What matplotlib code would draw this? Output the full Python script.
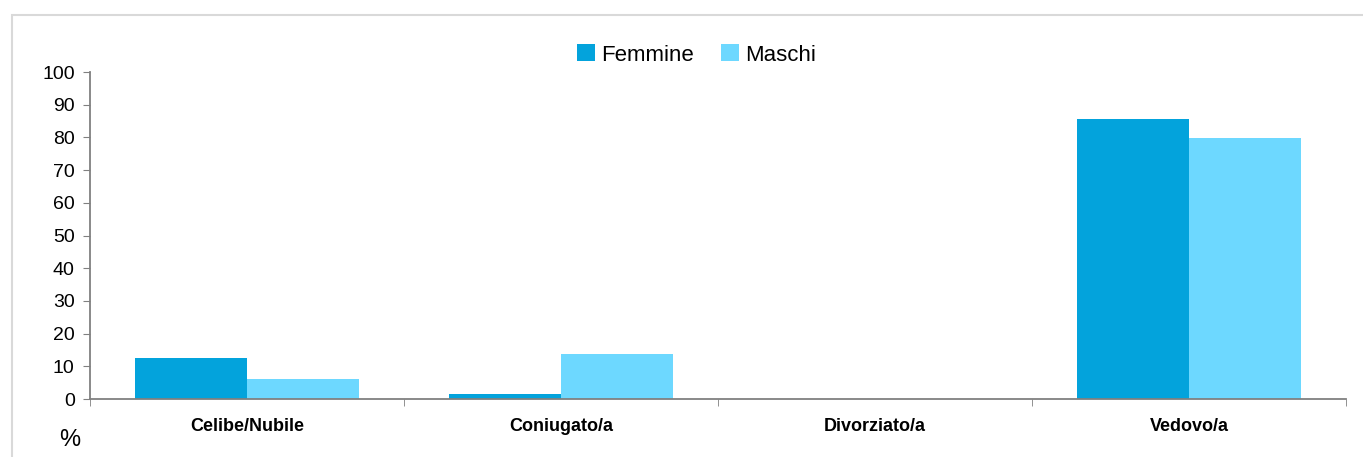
import matplotlib.pyplot as plt
import numpy as np
from matplotlib.patches import Rectangle

# dati
categorie = ['Celibe/Nubile', 'Coniugato/a', 'Divorziato/a', 'Vedovo/a']
femmine = [12.5, 1.5, 0.0, 85.6]
maschi = [6.1, 13.8, 0.0, 79.8]

plt.rcParams['font.family'] = ['Liberation Sans', 'DejaVu Sans']

fig = plt.figure(figsize=(13.63, 4.57), dpi=100)
ax = fig.add_axes([90 / 1363, 1 - 399 / 457, (1346 - 90) / 1363, (399 - 72) / 457])

# cornice grigia
fig.patches.append(Rectangle((12 / 1363, -0.1), 1.2, 1 - 15 / 457 + 0.1,
                             transform=fig.transFigure, fill=False,
                             edgecolor='#d9d9d9', linewidth=1.5))

x = np.arange(len(categorie))
w = 0.356
ax.bar(x - w / 2, femmine, w, color='#03a3dc', label='Femmine')
ax.bar(x + w / 2, maschi, w, color='#6dd8ff', label='Maschi')

ax.set_xlim(-0.5, len(categorie) - 0.5)
ax.set_ylim(0, 100)
ax.set_yticks(range(0, 101, 10))
ax.set_xticks(x)
ax.set_xticklabels(categorie, fontweight='bold', fontsize=13)
ax.set_xticks(np.arange(-0.5, len(categorie), 1), minor=True)
ax.tick_params(axis='x', which='major', length=0, pad=14)
ax.tick_params(axis='x', which='minor', length=5, color='#808080')
ax.tick_params(axis='y', length=5, color='#808080', labelsize=14, pad=6)

for s in ['top', 'right']:
    ax.spines[s].set_visible(False)
for s in ['left', 'bottom']:
    ax.spines[s].set_color('#808080')
    ax.spines[s].set_linewidth(1.3)

fig.text(70 / 1363, 1 - 440 / 457, '%', fontsize=17, ha='center', va='center')

ax.legend(loc='center', bbox_to_anchor=(0.483, 1.052), ncol=2, frameon=False,
          fontsize=16, handlelength=0.8, handleheight=0.8, handletextpad=0.3,
          columnspacing=1.2)

plt.savefig('out.png', dpi=100)
